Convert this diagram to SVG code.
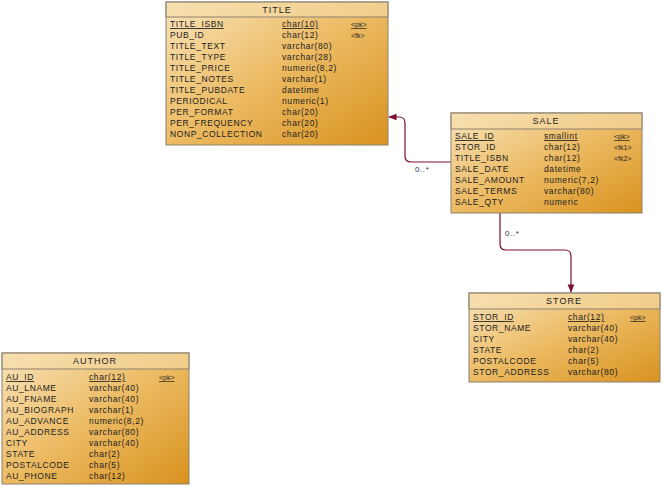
<svg xmlns="http://www.w3.org/2000/svg" width="663" height="487" viewBox="0 0 663 487">
<defs>
<linearGradient id="g" x1="0" y1="0" x2="1" y2="1"><stop offset="0" stop-color="#f8e4ba"/><stop offset="0.5" stop-color="#ecba62"/><stop offset="1" stop-color="#d9921e"/></linearGradient>
<marker id="arr" viewBox="0 0 10 10" refX="9" refY="5" markerWidth="7" markerHeight="7" orient="auto"><path d="M0,1 L10,5 L0,9 z" fill="#7a1030"/></marker>
<style>
.box{fill:url(#g);stroke:#8c8170;stroke-width:1}
.hd{fill:#f5dca8;fill-opacity:0.6;stroke:#8c8170;stroke-width:1}
text{font-family:"Liberation Sans",Arial,sans-serif;font-size:8.5px;fill:#222;letter-spacing:0.6px}
.t{text-anchor:middle;font-size:9px;letter-spacing:1px}
.u{text-decoration:underline}
.k{font-size:7px;letter-spacing:0}
.c{fill:none;stroke:#7a1030;stroke-width:1.2}
.l{fill:#333;font-size:8px}
</style>
</defs>
<g id="connectors">
<path class="c" d="M451,162 H411 Q405,162 405,156 V123 Q405,117 399,117 H389" marker-end="url(#arr)"/>
<text class="l" x="415" y="172">0..*</text>
<path class="c" d="M500,213 V244 Q500,250 506,250 H565 Q571,250 571,256 V292" marker-end="url(#arr)"/>
<text class="l" x="505" y="236">0..*</text>
</g>
<g id="title">
<rect class="box" x="166" y="2" width="222" height="143"/>
<rect class="hd" x="166" y="2" width="222" height="15"/>
<text class="t" x="277" y="13">TITLE</text>
<text class="u" x="170" y="27">TITLE_ISBN</text><text class="u" x="282" y="27">char(10)</text><text class="k u" x="351" y="27">&lt;pk&gt;</text>
<text x="170" y="38">PUB_ID</text><text x="282" y="38">char(12)</text><text class="k" x="351" y="38">&lt;fk&gt;</text>
<text x="170" y="49">TITLE_TEXT</text><text x="282" y="49">varchar(80)</text>
<text x="170" y="60">TITLE_TYPE</text><text x="282" y="60">varchar(28)</text>
<text x="170" y="71">TITLE_PRICE</text><text x="282" y="71">numeric(8,2)</text>
<text x="170" y="82">TITLE_NOTES</text><text x="282" y="82">varchar(1)</text>
<text x="170" y="93">TITLE_PUBDATE</text><text x="282" y="93">datetime</text>
<text x="170" y="104">PERIODICAL</text><text x="282" y="104">numeric(1)</text>
<text x="170" y="115">PER_FORMAT</text><text x="282" y="115">char(20)</text>
<text x="170" y="126">PER_FREQUENCY</text><text x="282" y="126">char(20)</text>
<text x="170" y="137">NONP_COLLECTION</text><text x="282" y="137">char(20)</text>
</g>
<g id="sale">
<rect class="box" x="451" y="113" width="191" height="100"/>
<rect class="hd" x="451" y="113" width="191" height="16"/>
<text class="t" x="546" y="124">SALE</text>
<text class="u" x="455" y="139">SALE_ID</text><text class="u" x="544" y="139">smallint</text><text class="k u" x="614" y="139">&lt;pk&gt;</text>
<text x="455" y="150">STOR_ID</text><text x="544" y="150">char(12)</text><text class="k" x="614" y="150">&lt;fk1&gt;</text>
<text x="455" y="161">TITLE_ISBN</text><text x="544" y="161">char(12)</text><text class="k" x="614" y="161">&lt;fk2&gt;</text>
<text x="455" y="172">SALE_DATE</text><text x="544" y="172">datetime</text>
<text x="455" y="183">SALE_AMOUNT</text><text x="544" y="183">numeric(7,2)</text>
<text x="455" y="194">SALE_TERMS</text><text x="544" y="194">varchar(80)</text>
<text x="455" y="205">SALE_QTY</text><text x="544" y="205">numeric</text>
</g>
<g id="store">
<rect class="box" x="469" y="293" width="191" height="89"/>
<rect class="hd" x="469" y="293" width="191" height="16"/>
<text class="t" x="564" y="304">STORE</text>
<text class="u" x="473" y="320">STOR_ID</text><text class="u" x="568" y="320">char(12)</text><text class="k u" x="630" y="320">&lt;pk&gt;</text>
<text x="473" y="331">STOR_NAME</text><text x="568" y="331">varchar(40)</text>
<text x="473" y="342">CITY</text><text x="568" y="342">varchar(40)</text>
<text x="473" y="353">STATE</text><text x="568" y="353">char(2)</text>
<text x="473" y="364">POSTALCODE</text><text x="568" y="364">char(5)</text>
<text x="473" y="375">STOR_ADDRESS</text><text x="568" y="375">varchar(80)</text>
</g>
<g id="author">
<rect class="box" x="2" y="353" width="187" height="131"/>
<rect class="hd" x="2" y="353" width="187" height="16"/>
<text class="t" x="95" y="364">AUTHOR</text>
<text class="u" x="6" y="380">AU_ID</text><text class="u" x="89" y="380">char(12)</text><text class="k u" x="159" y="380">&lt;pk&gt;</text>
<text x="6" y="391">AU_LNAME</text><text x="89" y="391">varchar(40)</text>
<text x="6" y="402">AU_FNAME</text><text x="89" y="402">varchar(40)</text>
<text x="6" y="413">AU_BIOGRAPH</text><text x="89" y="413">varchar(1)</text>
<text x="6" y="424">AU_ADVANCE</text><text x="89" y="424">numeric(8,2)</text>
<text x="6" y="435">AU_ADDRESS</text><text x="89" y="435">varchar(80)</text>
<text x="6" y="446">CITY</text><text x="89" y="446">varchar(40)</text>
<text x="6" y="457">STATE</text><text x="89" y="457">char(2)</text>
<text x="6" y="468">POSTALCODE</text><text x="89" y="468">char(5)</text>
<text x="6" y="479">AU_PHONE</text><text x="89" y="479">char(12)</text>
</g>
</svg>
